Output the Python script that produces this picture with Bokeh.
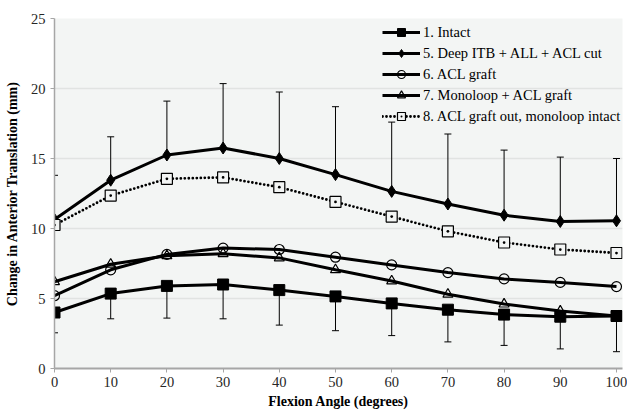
from bokeh.plotting import figure
from bokeh.models import (ColumnDataSource, Whisker, TeeHead, Legend, LegendItem,
                          Range1d, FixedTicker)
from bokeh.embed import file_html
from bokeh.resources import INLINE

angles = [0, 10, 20, 30, 40, 50, 60, 70, 80, 90, 100]
intact = [4.0, 5.35, 5.9, 6.0, 5.6, 5.15, 4.65, 4.2, 3.85, 3.7, 3.75]
intact_lo = [2.55, 3.55, 3.6, 3.55, 3.1, 2.7, 2.35, 1.9, 1.65, 1.4, 1.2]
deep = [10.65, 13.45, 15.25, 15.75, 15.0, 13.85, 12.65, 11.75, 10.95, 10.5, 10.55]
deep_hi = [13.8, 16.55, 19.1, 20.35, 19.75, 18.7, 17.6, 16.75, 15.6, 15.1, 15.0]
acl_graft = [5.2, 7.05, 8.15, 8.6, 8.5, 7.95, 7.4, 6.85, 6.4, 6.15, 5.85]
monoloop = [6.2, 7.45, 8.05, 8.2, 7.9, 7.05, 6.25, 5.3, 4.6, 4.1, 3.75]
graft_out = [10.25, 12.35, 13.55, 13.65, 12.95, 11.9, 10.85, 9.8, 9.0, 8.5, 8.25]

names = ["1. Intact", "5. Deep ITB + ALL + ACL cut", "6. ACL graft",
         "7. Monoloop + ACL graft", "8. ACL graft out, monoloop intact"]
x_ticks = [0, 10, 20, 30, 40, 50, 60, 70, 80, 90, 100]
y_ticks = [0, 5, 10, 15, 20, 25]

SERIF = "Liberation Serif"

p = figure(width=627, height=411, output_backend="svg", toolbar_location=None,
           x_range=Range1d(0, 101.07), y_range=Range1d(0, 25),
           min_border_left=54, min_border_right=5, min_border_top=18,
           min_border_bottom=42)
p.background_fill_color = "#f3f5f4"
p.border_fill_color = "white"
p.outline_line_color = None

p.xgrid.grid_line_color = None
p.ygrid.grid_line_color = "#e1e3e2"
p.ygrid.grid_line_width = 1.5

p.xaxis.ticker = FixedTicker(ticks=x_ticks)
p.yaxis.ticker = FixedTicker(ticks=y_ticks)
for ax in (p.xaxis, p.yaxis):
    ax.axis_line_color = "#a6a6a6"
    ax.major_tick_line_color = "#a6a6a6"
    ax.minor_tick_line_color = None
    ax.major_tick_in = 0
    ax.major_tick_out = 4
    ax.major_label_text_font = SERIF
    ax.major_label_text_font_size = "14.5px"
    ax.major_label_text_color = "#262626"
    ax.axis_label_text_font = SERIF
    ax.axis_label_text_font_style = "bold"
    ax.axis_label_text_font_size = "14px"
    ax.axis_label_text_color = "black"
p.xaxis.axis_line_width = 2
p.yaxis.axis_line_width = 1.5
p.xaxis.major_label_standoff = 4
p.xaxis.axis_label_standoff = 4
p.yaxis.major_label_standoff = 5
p.yaxis.axis_label_standoff = 8
p.xaxis.axis_label = "Flexion Angle (degrees)"
p.yaxis.axis_label = "Change in Anterior Translation (mm)"

src = ColumnDataSource(dict(x=angles, intact=intact, intact_lo=intact_lo,
                            deep=deep, deep_hi=deep_hi, acl=acl_graft,
                            mono=monoloop, out=graft_out))

# error bars
p.add_layout(Whisker(source=src, base="x", lower="intact_lo", upper="intact",
                     dimension="height", line_color="black", line_width=1,
                     upper_head=None,
                     lower_head=TeeHead(size=7, line_color="black", line_width=1)))
p.add_layout(Whisker(source=src, base="x", lower="deep", upper="deep_hi",
                     dimension="height", line_color="black", line_width=1,
                     lower_head=None,
                     upper_head=TeeHead(size=7, line_color="black", line_width=1)))

items = []
# 1 Intact
l1 = p.line("x", "intact", source=src, line_color="black", line_width=3)
m1 = p.scatter("x", "intact", source=src, marker="square", size=11,
               fill_color="black", line_color="black")
# 5 Deep ITB
l2 = p.line("x", "deep", source=src, line_color="black", line_width=3)
m2 = p.scatter("x", "deep", source=src, marker="diamond", size=12,
               fill_color="black", line_color="black")
# 6 ACL graft
l3 = p.line("x", "acl", source=src, line_color="black", line_width=3)
m3 = p.scatter("x", "acl", source=src, marker="circle", size=10,
               fill_color=None, line_color="black", line_width=1.2)
# 7 Monoloop
l4 = p.line("x", "mono", source=src, line_color="black", line_width=3)
m4 = p.scatter("x", "mono", source=src, marker="triangle", size=10,
               fill_color=None, line_color="black", line_width=1.2)
# 8 graft out
l5 = p.line("x", "out", source=src, line_color="black", line_width=2.8,
            line_dash="0 4", line_cap="round")
m5 = p.scatter("x", "out", source=src, marker="square_dot", size=11,
               fill_color="#f3f5f4", line_color="black", line_width=1.2)

rends = [(l1, m1), (l2, m2), (l3, m3), (l4, m4), (l5, m5)]
for name, (l, m) in zip(names, rends):
    items.append(LegendItem(label=name, renderers=[l, m]))

legend = Legend(items=items, location=(328, 242), orientation="vertical",
                background_fill_alpha=0, border_line_color=None,
                label_text_font=SERIF, label_text_font_size="14.5px",
                label_text_color="black", glyph_width=38, glyph_height=20,
                label_height=20, label_standoff=3, spacing=1, padding=0,
                margin=0)
p.add_layout(legend, "center")

open("out.html", "w").write(file_html(p, INLINE))
